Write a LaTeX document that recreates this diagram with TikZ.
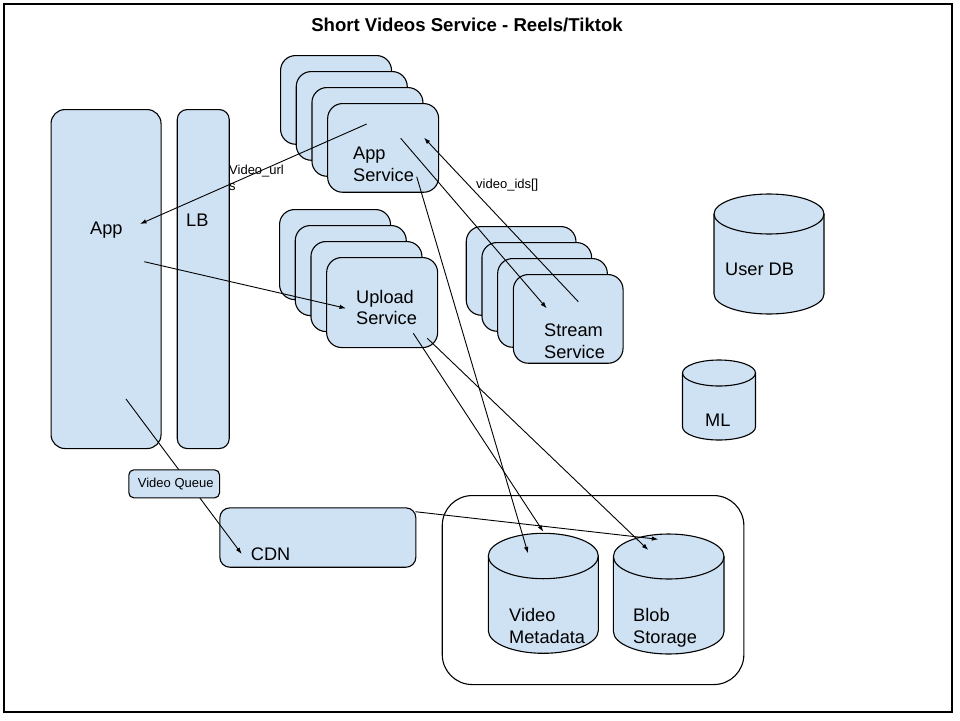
\documentclass[tikz,border=0pt]{standalone}
\usepackage{fontspec}
\setmainfont{Liberation Sans}
\usetikzlibrary{arrows.meta,calc}
\definecolor{boxfill}{HTML}{CFE2F3}
\tikzset{
  box/.style={draw=black, line width=1.1pt, fill=boxfill, inner sep=0pt, anchor=north west},
  conn/.style={draw=black, line width=0.9pt, -{Latex[length=6.5pt,width=4.5pt]}},
  lbl/.style={inner sep=0pt, anchor=west, align=left, font=\fontsize{18.2}{21.7}\selectfont},
  small/.style={inner sep=0pt, anchor=west, align=left, font=\fontsize{13}{16}\selectfont},
}
\newcommand\svcstack[5]{%
  \foreach \i in {0,1,2,3} {
    \node[box, rounded corners=15pt, minimum width=#4pt, minimum height=#5pt] (#1\i) at ({#2+15.7*\i},{#3+16*\i}) {};
  }}
\newcommand\dbcyl[6]{% name, cx, top, rx, ry, h
  \node[inner sep=0pt, minimum width=#4*2pt, minimum height=#6pt, anchor=north] (#1) at (#2,#3) {};
  \path[fill=boxfill, draw=black, line width=1.1pt] (#2-#4,#3+#5) -- (#2-#4,#3+#6-#5)
    arc[start angle=180, end angle=360, x radius=#4pt, y radius=#5pt] -- (#2+#4,#3+#5)
    arc[start angle=0, end angle=180, x radius=#4pt, y radius=#5pt] -- cycle;
  \draw[line width=1.1pt] (#2-#4,#3+#5) arc[start angle=180, end angle=360, x radius=#4pt, y radius=#5pt];
}
\begin{document}
\begin{tikzpicture}[x=1pt, y=-1pt]
\useasboundingbox (0,0) rectangle (960,720);
\node[draw=black, line width=1.5pt, inner sep=0pt, minimum width=948pt, minimum height=708pt, anchor=north west] (frame) at (3,3) {};
\node[font=\bfseries\fontsize{18.6}{21}\selectfont, inner sep=0pt] (title) at (467,25) {Short Videos Service - Reels/Tiktok};

% App and LB
\node[box, rounded corners=14pt, minimum width=110pt, minimum height=339pt] (app) at (50.5,109) {};
\node[box, rounded corners=10pt, minimum width=52pt, minimum height=339pt] (lb) at (176.7,109) {};
\node[lbl] (apptxt) at (90,230) {App};
\node[lbl] (lbtxt) at (186,220) {LB};

% service stacks
\svcstack{as}{280}{55}{111}{88.7}
\svcstack{up}{279}{209}{111}{90}
\svcstack{ss}{465.7}{226}{109.7}{88.7}
\node[lbl] (astxt) at (353,164) {App\\Service};
\node[lbl] (uptxt) at (356,307.5) {Upload\\Service};
\node[lbl] (sstxt) at (544,341) {Stream\\Service};

% databases
\dbcyl{userdb}{769}{194}{55}{20}{120}
\node[lbl] (userdbtxt) at (725,269) {User DB};
\dbcyl{ml}{719}{360}{36.5}{13}{80}
\node[lbl] (mltxt) at (705,420) {ML};

% storage group
\node[draw=black, line width=1.1pt, rounded corners=30pt, inner sep=0pt, minimum width=301.6pt, minimum height=189pt, anchor=north west] (store) at (441.7,495) {};
\dbcyl{vm}{543.3}{533.3}{55}{22.7}{120}
\node[lbl] (vmtxt) at (509,626) {Video\\Metadata};
\dbcyl{blob}{668.7}{534}{55.3}{22.5}{120}
\node[lbl] (blobtxt) at (633,628) {Blob\\Storage};

% CDN
\node[box, rounded corners=10pt, minimum width=196pt, minimum height=59.4pt] (cdn) at (219.3,507.3) {};
\node[lbl] (cdntxt) at (250.7,554) {CDN};

% connector end points
\coordinate (asA) at (366.7,124);
\coordinate (appIn) at (140,224);
\coordinate (appOut) at (144.3,261.7);
\coordinate (upIn) at (346,308.3);
\coordinate (asB) at (400.7,138.3);
\coordinate (ssIn) at (546.7,308.3);
\coordinate (ssOut) at (578.3,301.7);
\coordinate (asC) at (424,137.7);
\coordinate (asD) at (416.7,176.7);
\coordinate (vmA) at (528,553.3);
\coordinate (upA) at (413.3,333.3);
\coordinate (vmB) at (543.3,531.7);
\coordinate (upB) at (427.3,338.3);
\coordinate (blobA) at (648.3,550);
\coordinate (cdnA) at (415.3,511.7);
\coordinate (blobB) at (658.3,539.3);
\coordinate (appB) at (126,399);
\coordinate (cdnB) at (241.7,554);

\draw[conn] (asA) -- (appIn);
\draw[conn] (appOut) -- (upIn);
\draw[conn] (asB) -- (ssIn);
\draw[conn] (ssOut) -- (asC);
\draw[conn] (asD) -- (vmA);
\draw[conn] (upA) -- (vmB);
\draw[conn] (upB) -- (blobA);
\draw[conn] (cdnA) -- (blobB);
\draw[conn] (appB) -- (cdnB);

\node[small] (urllbl) at (229,178) {Video\_url\\s};
\node[small] (idslbl) at (476,185) {video\_ids[]};

% video queue on top
\node[box, rounded corners=5pt, minimum width=90.7pt, minimum height=28pt] (vq) at (128.3,469.3) {};
\node[small] (vqtxt) at (137.7,484) {Video Queue};
\end{tikzpicture}
\end{document}
